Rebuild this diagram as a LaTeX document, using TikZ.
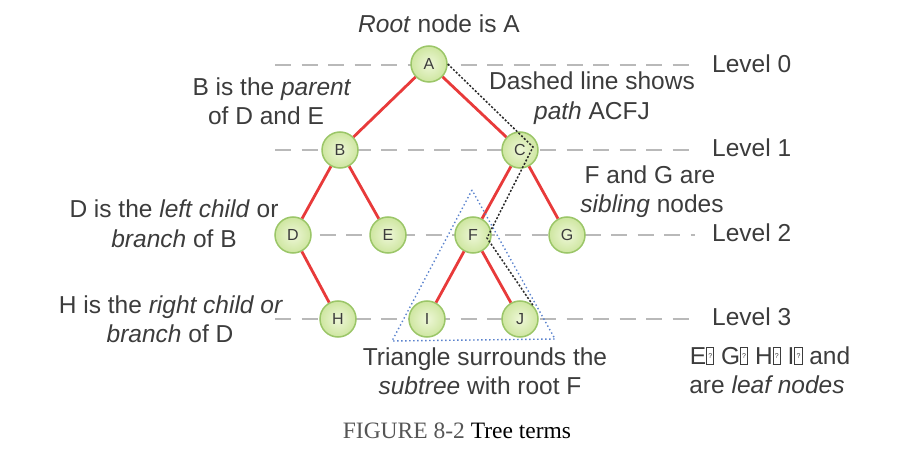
\documentclass[tikz,border=0pt]{standalone}
\usepackage{fontspec}
\setmainfont{Liberation Sans}
\newfontfamily\capfont{Liberation Serif}
\definecolor{txt}{RGB}{60,60,60}
\definecolor{redc}{RGB}{232,58,58}
\definecolor{lvl}{RGB}{185,185,185}
\definecolor{nfillin}{RGB}{238,247,216}
\definecolor{nfillout}{RGB}{206,230,160}
\definecolor{nborder}{RGB}{155,198,104}
\definecolor{tric}{RGB}{90,130,205}
\definecolor{pathc}{RGB}{40,40,40}
\definecolor{capgray}{RGB}{85,85,85}
\newcommand\qbx{{\setlength\fboxsep{0pt}\setlength\fboxrule{0.8pt}\fbox{\makebox[6.5pt]{\rule{0pt}{16pt}\raisebox{6pt}{\fontsize{7}{7}\selectfont ?}}}}}
\begin{document}
\begin{tikzpicture}[x=1pt,y=-1pt,
  tn/.style={circle,minimum size=36pt,inner sep=0pt,draw=nborder,line width=1.5pt,
    inner color=nfillin,outer color=nfillout,text=txt,font=\fontsize{16}{16}\selectfont},
  redline/.style={draw=redc,line width=2.8pt},
  lvlline/.style={draw=lvl,line width=2.8pt,dash pattern=on 16pt off 10.5pt},
  lbl/.style={anchor=base,inner sep=0pt,text=txt,font=\fontsize{24.5}{29}\selectfont},
  lvllbl/.style={anchor=base west,inner sep=0pt,text=txt,font=\fontsize{24.5}{29}\selectfont},
  tripath/.style={draw=tric,line width=1.4pt,dash pattern=on 1.4pt off 2.6pt},
  acfj/.style={draw=pathc,line width=1.5pt,dash pattern=on 2pt off 1.8pt}
]
\useasboundingbox (0,0) rectangle (897,454);
% level lines
\coordinate (l0s) at (275,65);  \coordinate (l0e) at (695,65);
\coordinate (l1s) at (275,150); \coordinate (l1e) at (695,150);
\coordinate (l2s) at (293,235); \coordinate (l2e) at (695,235);
\coordinate (l3s) at (275,319); \coordinate (l3e) at (695,319);
\draw[lvlline] (l0s) -- (l0e);
\draw[lvlline] (l1s) -- (l1e);
\draw[lvlline] (l2s) -- (l2e);
\draw[lvlline] (l3s) -- (l3e);
% nodes
\node[tn] (A) at (429,64) {A};
\node[tn] (B) at (340,150) {B};
\node[tn] (C) at (520,150) {C};
\node[tn] (D) at (293,235) {D};
\node[tn] (E) at (388,235) {E};
\node[tn] (F) at (473,235) {F};
\node[tn] (G) at (567,235) {G};
\node[tn] (H) at (338,319) {H};
\node[tn] (I) at (427,319) {I};
\node[tn] (J) at (520,319) {J};
% edges
\draw[redline] (A) -- (B);
\draw[redline] (A) -- (C);
\draw[redline] (B) -- (D);
\draw[redline] (B) -- (E);
\draw[redline] (C) -- (F);
\draw[redline] (C) -- (G);
\draw[redline] (D) -- (H);
\draw[redline] (F) -- (I);
\draw[redline] (F) -- (J);
% subtree triangle
\coordinate (t1) at (472,190);
\coordinate (t2) at (392,341);
\coordinate (t3) at (555,339);
\draw[tripath] (t1) -- (t2) -- (t3) -- cycle;
% path ACFJ
\coordinate (p1) at (533,147);
\coordinate (p2) at (487,238);
\draw[acfj] (A.east) -- (p1) -- (p2) -- (J.north east);
% labels
\node[lbl] (root) at (439,33) {\textit{Root} node is A};
\node[lbl] (bpar1) at (272,96) {B is the \textit{parent}};
\node[lbl] (bpar2) at (266,125) {of D and E};
\node[lbl] (dash1) at (592,90) {Dashed line shows};
\node[lbl] (dash2) at (592,120) {\textit{path} ACFJ};
\node[lbl] (sib1) at (650,184) {F and G are};
\node[lbl] (sib2) at (652,213) {\textit{sibling} nodes};
\node[lbl] (lc1) at (174,218) {D is the \textit{left child} or};
\node[lbl] (lc2) at (174,248) {\textit{branch} of B};
\node[lbl] (rc1) at (171,314) {H is the \textit{right child or}};
\node[lbl] (rc2) at (170,343) {\textit{branch} of D};
\node[lbl] (tri1) at (485,365) {Triangle surrounds the};
\node[lbl] (tri2) at (480,394) {\textit{subtree} with root F};
\node[lbl] (leaf1) at (770,364) {E\qbx{} G\qbx{} H\qbx{} I\qbx{} and};
\node[lbl] (leaf2) at (767,393) {are \textit{leaf nodes}};
\node[lvllbl] (lv0) at (712,73) {Level 0};
\node[lvllbl] (lv1) at (712,157) {Level 1};
\node[lvllbl] (lv2) at (712,242) {Level 2};
\node[lvllbl] (lv3) at (712,326) {Level 3};
\node[anchor=base,inner sep=0pt,font=\capfont\fontsize{23.5}{28}\selectfont] (cap) at (457,438)
  {\textcolor{capgray}{FIGURE 8-2} Tree terms};
\end{tikzpicture}
\end{document}
